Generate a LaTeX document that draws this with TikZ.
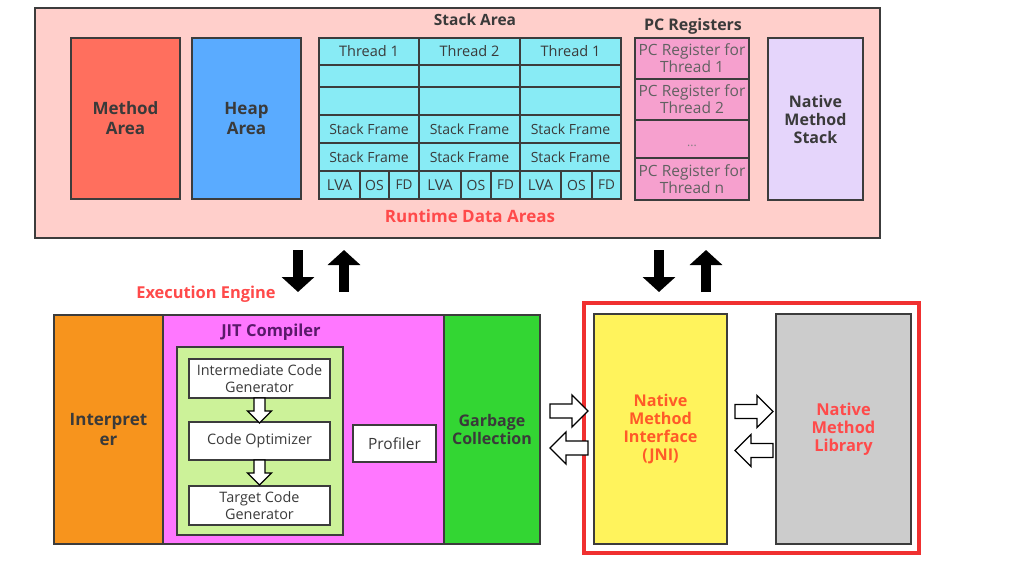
\documentclass[tikz,border=0pt]{standalone}
\usepackage{fontspec}
\setmainfont{Open Sans}
\usetikzlibrary{arrows.meta,calc}
\definecolor{outerpink}{HTML}{FFCFCB}
\definecolor{methodc}{HTML}{FF6F5E}
\definecolor{heapc}{HTML}{5AABFF}
\definecolor{stackc}{HTML}{88EBF5}
\definecolor{pcc}{HTML}{F6A0CE}
\definecolor{nmsc}{HTML}{E5D5FB}
\definecolor{interc}{HTML}{F7941D}
\definecolor{jitc}{HTML}{FF77FF}
\definecolor{lgreen}{HTML}{CCF299}
\definecolor{gcc}{HTML}{33D633}
\definecolor{yellowc}{HTML}{FFF35C}
\definecolor{grayc}{HTML}{CCCCCC}
\definecolor{redbox}{HTML}{F03030}
\definecolor{redtxt}{HTML}{FF4A4A}
\definecolor{orangetxt}{HTML}{FF5A28}
\definecolor{txt}{HTML}{3A3A3A}
\definecolor{linec}{HTML}{3C3C3C}
\definecolor{jittxt}{HTML}{5A1A6A}
\newcommand\fs[2]{\fontsize{#1}{#2}\selectfont}
\newcommand\cellnode[7]{%
  \pgfmathsetmacro\cw{#4-#2}\pgfmathsetmacro\ch{#5-#3}%
  \node[#6, minimum width=\cw pt, minimum height=\ch pt, anchor=center] (#1) at ({(#2+#4)/2},{(#3+#5)/2}) {#7};}
\begin{document}
\begin{tikzpicture}[x=1pt,y=-1pt,
  box/.style={draw=linec, line width=1.5pt, inner sep=0pt, outer sep=0pt, align=center, text=txt},
  bl/.style={font=\fs{17}{20}\bfseries},
  rg/.style={font=\fs{14}{17}},
  title/.style={text=txt, inner sep=0pt},
  blackarrow/.style={line width=10pt, -{Triangle[width=32pt,length=15pt]}, black},
  bigharrow/.pic={\draw[fill=white, draw=black, line width=1.3pt]
     (0,-7) -- (22,-7) -- (22,-16) -- (38,0) -- (22,16) -- (22,7) -- (0,7) -- cycle;},
  smallharrow/.pic={\draw[fill=white, draw=black, line width=1.3pt]
     (0,-5.5) -- (13,-5.5) -- (13,-12) -- (25,0) -- (13,12) -- (13,5.5) -- (0,5.5) -- cycle;},
]
\useasboundingbox (0,0) rectangle (1034,566);
\fill[white] (0,0) rectangle (1034,566);

% ---------- Runtime Data Areas ----------
\cellnode{rda}{35}{8}{880}{238}{box, fill=outerpink}{}
\cellnode{method}{71}{38}{180}{199}{box, fill=methodc, bl}{Method\\Area}
\cellnode{heap}{192}{38}{301}{199}{box, fill=heapc, bl}{Heap\\Area}
\node[title, font=\fs{15.5}{18}\bfseries] (stacktitle) at (475,20) {Stack Area};
\node[title, font=\fs{16}{18}\bfseries] (pctitle) at (693,26) {PC Registers};
\node[font=\fs{17}{20}\bfseries, text=redtxt, inner sep=0pt] (rdatitle) at (470,216) {Runtime Data Areas};

% stack grid
\foreach \xa/\xb/\t [count=\i] in {319/419/Thread 1, 419/520/Thread 2, 520/621/Thread 1}{
  \cellnode{th\i}{\xa}{38}{\xb}{65}{box, fill=stackc, font=\fs{14.5}{17}}{\t}
  \cellnode{ea\i}{\xa}{65}{\xb}{87}{box, fill=stackc}{}
  \cellnode{eb\i}{\xa}{87}{\xb}{115}{box, fill=stackc}{}
  \cellnode{sfa\i}{\xa}{115}{\xb}{143}{box, fill=stackc, rg}{Stack Frame}
  \cellnode{sfb\i}{\xa}{143}{\xb}{171}{box, fill=stackc, rg}{Stack Frame}
}
\foreach \xa/\xb/\xc/\xd [count=\i] in {319/360/389/419, 419/461/491/520, 520/561/592/621}{
  \cellnode{lva\i}{\xa}{171}{\xb}{199}{box, fill=stackc, font=\fs{15}{17}}{LVA}
  \cellnode{os\i}{\xb}{171}{\xc}{199}{box, fill=stackc, font=\fs{14}{17}}{OS}
  \cellnode{fd\i}{\xc}{171}{\xd}{199}{box, fill=stackc, font=\fs{13.5}{17}}{FD}
}

% PC registers
\cellnode{pc1}{635}{38}{749}{79}{box, fill=pcc, font=\fs{15.5}{17}, text=txt!80}{PC Register for\\Thread 1}
\cellnode{pc2}{635}{79}{749}{120}{box, fill=pcc, font=\fs{15.5}{17}, text=txt!80}{PC Register for\\Thread 2}
\cellnode{pc3}{635}{120}{749}{158}{box, fill=pcc, font=\fs{12}{12}, text=txt!65}{\smash{\raisebox{-7pt}{...}}}
\cellnode{pc4}{635}{158}{749}{200}{box, fill=pcc, font=\fs{15.5}{17}, text=txt!80}{PC Register for\\Thread n}

% Native method stack
\cellnode{nms}{768}{38}{863}{200}{box, fill=nmsc, font=\fs{16}{18}\bfseries}{Native\\Method\\Stack}

% ---------- black arrows ----------
\coordinate (a1s) at (298,250); \coordinate (a1e) at (298,292);
\coordinate (a2s) at (344,292); \coordinate (a2e) at (344,250);
\coordinate (a3s) at (659,250); \coordinate (a3e) at (659,292);
\coordinate (a4s) at (706,292); \coordinate (a4e) at (706,250);
\draw[blackarrow] (a1s) -- (a1e);
\draw[blackarrow] (a2s) -- (a2e);
\draw[blackarrow] (a3s) -- (a3e);
\draw[blackarrow] (a4s) -- (a4e);

% ---------- Execution Engine ----------
\node[font=\fs{16.4}{19}\bfseries, text=redtxt, inner sep=0pt] (eetitle) at (206,294) {Execution Engine};
\cellnode{interp}{54}{315}{163}{544}{box, fill=interc, font=\fs{17}{20}\bfseries}{Interpret\\er}
\cellnode{jit}{163}{315}{444}{544}{box, fill=jitc}{}
\cellnode{gc}{444}{315}{540}{544}{box, fill=gcc, font=\fs{16}{17.5}\bfseries}{Garbage\\Collection}
\node[font=\fs{16.5}{19}\bfseries, text=jittxt, inner sep=0pt] (jittitle) at (271,332) {JIT Compiler};
\cellnode{jitin}{177}{347}{343}{535}{box, fill=lgreen}{}
\cellnode{icg}{189}{359}{330}{398}{box, fill=white, font=\fs{14.4}{17}}{Intermediate Code\\Generator}
\cellnode{co}{189}{422}{330}{460}{box, fill=white, font=\fs{14.4}{17}}{Code Optimizer}
\cellnode{tcg}{189}{486}{330}{525}{box, fill=white, font=\fs{14.4}{17}}{Target Code\\Generator}
\cellnode{prof}{353}{425}{436}{462}{box, fill=white, font=\fs{15.5}{17}}{Profiler}
\pic[rotate=-90] at (icg.south) {smallharrow};
\pic[rotate=-90] at (co.south) {smallharrow};

% ---------- Native ----------
\cellnode{redframe}{584}{303}{919}{553}{draw=redbox, line width=3.2pt, inner sep=0pt}{}
\cellnode{nmi}{594}{314}{727}{544}{box, fill=yellowc, font=\fs{16.2}{18}\bfseries, text=orangetxt}{Native\\Method\\Interface\\(JNI)}
\cellnode{lib}{776}{314}{911}{544}{box, fill=grayc, font=\fs{16.4}{18}\bfseries, text=redtxt}{Native\\Method\\Library}

\pic at ($(gc.east)+(10,-18.5)$) {bigharrow};
\pic[rotate=180] at ($(gc.east)+(48,18.5)$) {bigharrow};
\pic at ($(nmi.east)+(8,-17.5)$) {bigharrow};
\pic[rotate=180] at ($(lib.west)+(-3,21.5)$) {bigharrow};
\end{tikzpicture}
\end{document}
